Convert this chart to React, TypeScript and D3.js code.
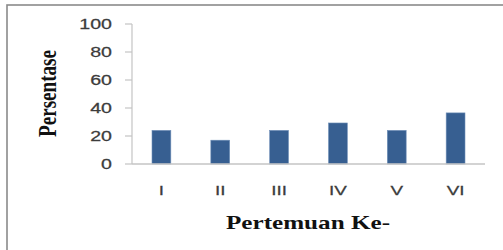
import React from "react";
import * as d3 from "d3";

const categories = ["I", "II", "III", "IV", "V", "VI"];
const values = [24, 17, 24, 29.3, 24, 36.5];
const yTicks = [0, 20, 40, 60, 80, 100];
const yTitle = "Persentase";
const xTitle = "Pertemuan Ke-";

export default function App() {
  const W = 503, H = 250;
  const x0 = 132, x1 = 485, yTop = 24, yBot = 164;
  const x = d3.scaleBand<string>().domain(categories).range([x0, x1]).paddingInner(0.68).paddingOuter(0.34);
  const y = d3.scaleLinear().domain([0, 100]).range([yBot, yTop]);
  const sans = "'Liberation Sans', Arial, sans-serif";
  const serif = "'Liberation Serif', 'Times New Roman', serif";
  return (
    <svg width={W} height={H} style={{ position: "fixed", left: 0, top: 0, background: "#fff" }}>
      <rect x={0} y={0} width={W} height={H} fill="#fff" />
      <rect x={7} y={5} width={W + 10} height={H + 10} fill="none" stroke="#8a8a8a" strokeWidth={1.6} />
      {/* y axis */}
      <line x1={x0} x2={x0} y1={yTop} y2={yBot} stroke="#c4c4c4" strokeWidth={1.2} />
      {yTicks.map((t) => (
        <g key={t}>
          <line x1={x0 - 7} x2={x0} y1={y(t)} y2={y(t)} stroke="#c4c4c4" strokeWidth={1.2} />
          <g transform={`translate(112, ${y(t) + 5}) scale(1.4,1)`}>
            <text textAnchor="end" fontFamily={sans} fontSize={14} fill="#3c3c3c" stroke="#3c3c3c" strokeWidth={0.25}>
              {t}
            </text>
          </g>
        </g>
      ))}
      {/* bars */}
      {categories.map((c, i) => (
        <rect
          key={c}
          x={x(c)!}
          y={y(values[i])}
          width={x.bandwidth()}
          height={yBot - y(values[i])}
          fill="#375f91"
          stroke="#6f8fb8"
          strokeWidth={0.6}
        />
      ))}
      {/* x axis */}
      <line x1={x0} x2={x1} y1={yBot} y2={yBot} stroke="#c4c4c4" strokeWidth={1.4} />
      {categories.map((c) => (
        <g key={c} transform={`translate(${x(c)! + x.bandwidth() / 2}, 194.5) scale(1.4,1)`}>
          <text textAnchor="middle" fontFamily={sans} fontSize={13.5} fill="#3c3c3c" stroke="#3c3c3c" strokeWidth={0.25}>
            {c}
          </text>
        </g>
      ))}
      {/* titles */}
      <g transform="translate(56, 93.5) scale(1.3,1) rotate(-90)">
        <text
          textAnchor="middle"
          fontFamily={serif}
          fontWeight="bold"
          fontSize={19}
          textLength={87}
          lengthAdjust="spacingAndGlyphs"
          fill="#111"
        >
          {yTitle}
        </text>
      </g>
      <text
        x={308}
        y={229}
        textAnchor="middle"
        fontFamily={serif}
        fontWeight="bold"
        fontSize={19}
        textLength={164}
        lengthAdjust="spacingAndGlyphs"
        fill="#111"
      >
        {xTitle}
      </text>
    </svg>
  );
}
